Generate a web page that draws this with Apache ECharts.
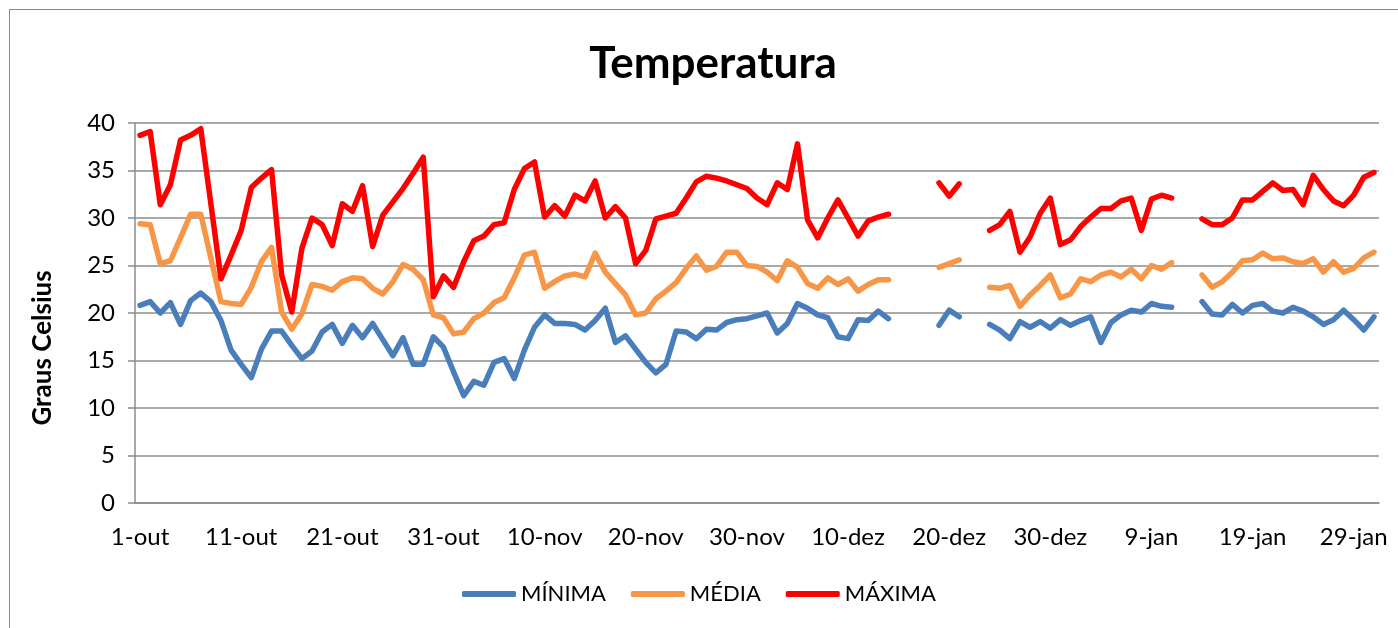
<!DOCTYPE html>
<html>
<head>
<meta charset="utf-8">
<title>Temperatura</title>
<script src="https://cdn.jsdelivr.net/npm/echarts@6/dist/echarts.min.js"></script>
<style>
  html, body { margin: 0; padding: 0; background: #ffffff; }
  #chart { width: 1398px; height: 628px; }
  .frame {
    position: absolute; left: 9px; top: 9px; width: 1500px; height: 700px;
    border-left: 1px solid #8c8c8c; border-top: 1px solid #8c8c8c;
    pointer-events: none;
  }
</style>
</head>
<body>
<div id="chart"></div>
<div class="frame"></div>
<script>
// Meses do período (1-out a 31-jan)
const months = ['out', 'nov', 'dez', 'jan'];
const monthDays = [31, 30, 31, 31];

// Temperaturas diárias (°C), null = sem leitura
const minima = [
  20.8, 21.2, 20.0, 21.1, 18.8, 21.3, 22.1, 21.2, 19.2, 16.1,
  14.6, 13.2, 16.2, 18.1, 18.1, 16.6, 15.2, 16.0, 18.0, 18.8,
  16.8, 18.7, 17.4, 18.9, 17.2, 15.5, 17.4, 14.6, 14.6, 17.5,
  16.4, 13.8, 11.3, 12.8, 12.4, 14.8, 15.2, 13.1, 16.1, 18.5,
  19.8, 18.9, 18.9, 18.8, 18.2, 19.2, 20.5, 16.9, 17.6, 16.2,
  14.8, 13.7, 14.6, 18.1, 18.0, 17.3, 18.3, 18.2, 19.0, 19.3,
  19.4, 19.7, 20.0, 17.9, 18.9, 21.0, 20.5, 19.8, 19.5, 17.5,
  17.3, 19.3, 19.2, 20.2, 19.4, null, null, null, null, 18.7,
  20.3, 19.6, null, null, 18.8, 18.2, 17.3, 19.1, 18.5, 19.1,
  18.4, 19.3, 18.7, 19.2, 19.6, 16.9, 19.0, 19.8, 20.3, 20.1,
  21.0, 20.7, 20.6, null, null, 21.2, 19.9, 19.8, 20.9, 20.0,
  20.8, 21.0, 20.2, 20.0, 20.6, 20.2, 19.6, 18.8, 19.3, 20.3,
  19.3, 18.2, 19.6
];

const media = [
  29.4, 29.3, 25.2, 25.5, 27.9, 30.4, 30.4, 25.8, 21.2, 21.0,
  20.9, 22.7, 25.4, 26.9, 20.1, 18.3, 19.9, 23.0, 22.8, 22.4,
  23.3, 23.7, 23.6, 22.6, 22.0, 23.3, 25.1, 24.6, 23.5, 19.8,
  19.5, 17.8, 18.0, 19.4, 20.0, 21.1, 21.6, 23.7, 26.1, 26.4,
  22.6, 23.3, 23.9, 24.1, 23.8, 26.3, 24.3, 23.1, 21.9, 19.8,
  20.0, 21.5, 22.3, 23.2, 24.7, 26.0, 24.5, 24.9, 26.4, 26.4,
  25.0, 24.9, 24.3, 23.4, 25.5, 24.8, 23.1, 22.6, 23.7, 23.0,
  23.6, 22.3, 23.0, 23.5, 23.5, null, null, null, null, 24.8,
  25.2, 25.6, null, null, 22.7, 22.6, 22.9, 20.7, 21.9, 22.9,
  24.0, 21.6, 22.0, 23.6, 23.3, 24.0, 24.3, 23.8, 24.6, 23.6,
  25.0, 24.6, 25.3, null, null, 24.0, 22.7, 23.3, 24.3, 25.5,
  25.6, 26.3, 25.7, 25.8, 25.4, 25.2, 25.7, 24.3, 25.4, 24.3,
  24.7, 25.8, 26.4
];

const maxima = [
  38.7, 39.1, 31.4, 33.5, 38.2, 38.7, 39.4, 31.5, 23.6, 26.1,
  28.7, 33.2, 34.2, 35.1, 24.0, 20.1, 26.8, 30.0, 29.3, 27.1,
  31.5, 30.7, 33.4, 27.0, 30.3, 31.7, 33.1, 34.7, 36.4, 21.7,
  23.9, 22.7, 25.4, 27.6, 28.1, 29.3, 29.5, 33.0, 35.2, 35.9,
  30.1, 31.3, 30.2, 32.4, 31.8, 33.9, 30.0, 31.2, 30.0, 25.2,
  26.6, 29.9, 30.2, 30.5, 32.1, 33.8, 34.4, 34.2, 33.9, 33.5,
  33.1, 32.1, 31.4, 33.7, 33.0, 37.8, 29.8, 27.9, 30.0, 31.9,
  30.0, 28.1, 29.7, 30.1, 30.4, null, null, null, null, 33.7,
  32.3, 33.6, null, null, 28.7, 29.3, 30.7, 26.4, 28.0, 30.5,
  32.1, 27.2, 27.7, 29.1, 30.1, 31.0, 31.0, 31.8, 32.1, 28.7,
  32.0, 32.4, 32.1, null, null, 29.9, 29.3, 29.3, 30.0, 31.9,
  31.9, 32.8, 33.7, 32.9, 33.0, 31.4, 34.5, 33.0, 31.8, 31.3,
  32.4, 34.3, 34.8
];

const seriesNames = ['MÍNIMA', 'MÉDIA', 'MÁXIMA'];
const seriesColors = ['#4a7ebb', '#f79646', '#ff0000'];

// Rótulos das datas: "1-out", "2-out", ...
const days = [];
months.forEach((m, k) => {
  for (let d = 1; d <= monthDays[k]; d++) days.push(d + '-' + m);
});

const chart = echarts.init(document.getElementById('chart'));
const font = 'Lato';
const gray = '#8c8c8c';

const option = {
  backgroundColor: '#ffffff',
  animation: false,
  title: {
    text: 'Temperatura',
    left: 708,
    textAlign: 'center',
    top: 37,
    textStyle: { fontFamily: font, fontSize: 44, fontWeight: 'bold', color: '#000' }
  },
  grid: { left: 135, right: 19, top: 123, bottom: 125, containLabel: false },
  legend: {
    left: 457,
    top: 578,
    itemWidth: 54,
    itemHeight: 6,
    itemGap: 25,
    icon: 'roundRect',
    textStyle: { fontFamily: font, fontSize: 22, color: '#000' },
    data: seriesNames
  },
  xAxis: {
    type: 'category',
    data: days,
    boundaryGap: true,
    axisLine: { lineStyle: { color: gray, width: 1.5 } },
    axisTick: { interval: 9, length: 7, lineStyle: { color: gray, width: 1.5 } },
    axisLabel: { interval: 9, margin: 22, fontFamily: font, fontSize: 24, color: '#000' },
    splitLine: { show: false }
  },
  yAxis: {
    type: 'value',
    min: 0,
    max: 40,
    interval: 5,
    name: 'Graus Celsius',
    nameLocation: 'middle',
    nameRotate: 90,
    nameGap: 79,
    nameTextStyle: { fontFamily: font, fontSize: 26, fontWeight: 'bold', color: '#000', padding: [0, 70, 0, 0] },
    axisLine: { show: true, lineStyle: { color: gray, width: 1.5 } },
    axisTick: { show: true, length: 7, lineStyle: { color: gray, width: 1.5 } },
    axisLabel: { margin: 20, fontFamily: font, fontSize: 24, color: '#000' },
    splitLine: { lineStyle: { color: gray, width: 1.5 } }
  },
  series: [minima, media, maxima].map((values, k) => ({
    name: seriesNames[k],
    type: 'line',
    data: values,
    showSymbol: false,
    symbol: 'none',
    connectNulls: false,
    color: seriesColors[k],
    lineStyle: { width: 5.5, color: seriesColors[k], cap: 'round', join: 'round' }
  }))
};

chart.setOption(option);
</script>
</body>
</html>
